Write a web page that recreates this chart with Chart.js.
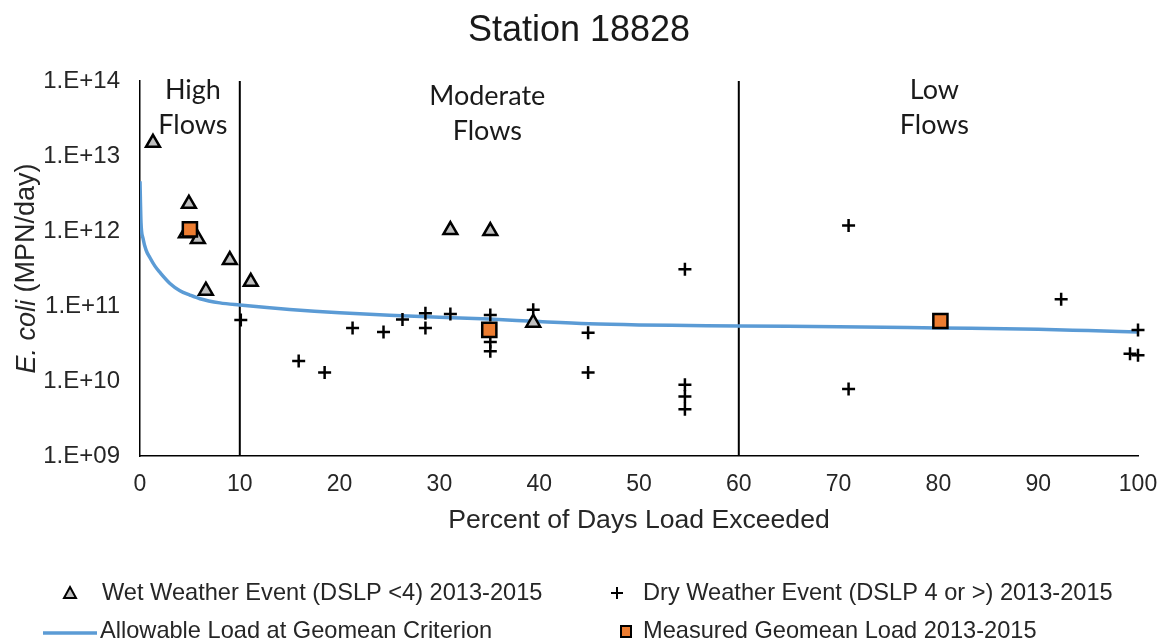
<!DOCTYPE html>
<html>
<head>
<meta charset="utf-8">
<title>Station 18828</title>
<script src="https://cdn.jsdelivr.net/npm/chart.js@4.4.1/dist/chart.umd.min.js"></script>
<style>
  html, body { margin: 0; padding: 0; background: #fff; }
  #wrap { width: 1162px; height: 641px; }
</style>
</head>
<body>
<div id="wrap"><canvas id="ldc" width="1162" height="641"></canvas></div>
<script>
// percent of days load exceeded / E. coli load (MPN/day)
const wetX = [1.3, 4.9, 4.6, 5.8, 6.6, 9.0, 11.1, 31.1, 35.1, 39.4];
const wetY = [1.5e13, 2.3e12, 9.3e11, 7.8e11, 1.6e11, 4.1e11, 2.1e11, 1.03e12, 1.0e12, 6.0e10];

const dryX = [10.1, 15.9, 18.5, 21.3, 24.4, 26.3, 28.6, 28.6, 31.1, 35.1, 35.1, 35.1, 39.4,
  44.9, 44.9, 54.6, 54.6, 54.6, 54.6, 71.0, 71.0, 92.3, 100, 99.2, 100];
const dryY = [6.5e10, 1.85e10, 1.3e10, 5.1e10, 4.5e10, 6.6e10, 8.0e10, 5.1e10, 7.8e10, 7.6e10, 3.3e10, 2.5e10, 8.9e10,
  4.4e10, 1.3e10, 3.1e11, 8.9e9, 6.2e9, 4.2e9, 1.18e12, 7.8e9, 1.23e11, 4.8e10, 2.3e10, 2.2e10];

const geoX = [5.0, 35.0, 80.2];
const geoY = [1.05e12, 4.8e10, 6.3e10];

// allowable load curve (flow duration x geomean criterion)
const allowX = [0, 0.1, 0.3, 0.6, 1, 1.5, 2, 3, 4, 5, 6, 8, 10, 15, 20, 25, 30, 35, 40, 45, 50, 55, 60, 70, 80, 90, 95, 100];
const allowY = [4.6e12, 1.3e12, 8e11, 5.6e11, 4.4e11, 3.4e11, 2.8e11, 2.0e11, 1.6e11, 1.4e11, 1.25e11, 1.1e11, 1.03e11,
  9.0e10, 8.1e10, 7.5e10, 7.1e10, 6.7e10, 6.2e10, 5.8e10, 5.6e10, 5.5e10, 5.4e10, 5.3e10, 5.1e10, 4.9e10, 4.7e10, 4.5e10];

// flow regime boundaries and labels
const zoneBreaks = [10, 60];
const zoneLabels = [['High', 'Flows'], ['Moderate', 'Flows'], ['Low', 'Flows']];
const zoneLabelX = [5.3, 34.8, 79.6];

const yTicks = [1e9, 1e10, 1e11, 1e12, 1e13, 1e14];
const xTicks = [0, 10, 20, 30, 40, 50, 60, 70, 80, 90, 100];

const legendNames = [
  'Wet Weather Event (DSLP <4) 2013-2015',
  'Dry Weather Event (DSLP 4 or >) 2013-2015',
  'Allowable Load at Geomean Criterion',
  'Measured Geomean Load 2013-2015'
];

const SANS = '"Liberation Sans", Arial, sans-serif';
const BLUE = '#5B9BD5';
const ORANGE = '#ED7D31';
const GREY = '#BFBFBF';

function pts(xs, ys){ return xs.map((x, i) => ({ x, y: ys[i] })); }

function fmtExp(v){
  const e = Math.round(Math.log10(v));
  return '1.E+' + String(e).padStart(2, '0');
}

const zoneLines = zoneBreaks.map(b => ({
  data: [{ x: b, y: yTicks[0] }, { x: b, y: yTicks[yTicks.length - 1] }],
  showLine: true, borderColor: '#000', borderWidth: 2, pointRadius: 0, order: 5
}));

// text and legend drawn straight onto the canvas
const extras = {
  id: 'extras',
  afterDraw(chart){
    const { ctx, scales: { x }, chartArea } = chart;
    ctx.save();

    // title
    ctx.fillStyle = '#1a1a1a';
    ctx.font = '36px ' + SANS;
    ctx.textAlign = 'center';
    ctx.textBaseline = 'middle';
    ctx.fillText('Station 18828', 579, 31);

    // flow regime labels
    ctx.font = '27px Lato, "Open Sans", sans-serif';
    ctx.fillStyle = '#1a1a1a';
    ctx.textBaseline = 'alphabetic';
    const base = [99, 105, 99];
    zoneLabels.forEach((lines, i) => {
      const cx = x.getPixelForValue(zoneLabelX[i]);
      lines.forEach((t, j) => ctx.fillText(t, cx, base[i] + j * 35));
    });

    // x axis title
    ctx.font = '26.6px ' + SANS;
    ctx.fillStyle = '#262626';
    ctx.textBaseline = 'middle';
    ctx.fillText('Percent of Days Load Exceeded', (chartArea.left + chartArea.right) / 2, 521);

    // y axis title, italic species name
    const a = 'E. coli', b = ' (MPN/day)';
    ctx.save();
    ctx.translate(27, (chartArea.top + chartArea.bottom) / 2);
    ctx.rotate(-Math.PI / 2);
    ctx.font = 'italic 27px ' + SANS;
    const wa = ctx.measureText(a).width;
    ctx.font = '27px ' + SANS;
    const wb = ctx.measureText(b).width;
    ctx.textAlign = 'left';
    const sx = -(wa + wb) / 2;
    ctx.font = 'italic 27px ' + SANS;
    ctx.fillText(a, sx, 0);
    ctx.font = '27px ' + SANS;
    ctx.fillText(b, sx + wa, 0);
    ctx.restore();

    // legend
    ctx.font = '23.6px ' + SANS;
    ctx.fillStyle = '#262626';
    ctx.textAlign = 'left';
    ctx.textBaseline = 'middle';
    const r1 = 593, r2 = 631;
    ctx.fillText(legendNames[0], 102, r1);
    ctx.fillText(legendNames[1], 643, r1);
    ctx.fillText(legendNames[2], 100, r2);
    ctx.fillText(legendNames[3], 643, r2);

    ctx.lineWidth = 2;
    ctx.strokeStyle = '#000';
    ctx.fillStyle = GREY;
    ctx.beginPath();
    ctx.moveTo(70, r1 - 6); ctx.lineTo(76, r1 + 5); ctx.lineTo(64, r1 + 5); ctx.closePath();
    ctx.fill(); ctx.stroke();

    ctx.beginPath();
    ctx.moveTo(611, r1); ctx.lineTo(623, r1);
    ctx.moveTo(617, r1 - 6); ctx.lineTo(617, r1 + 6);
    ctx.stroke();

    ctx.strokeStyle = BLUE;
    ctx.lineWidth = 3.5;
    ctx.beginPath();
    ctx.moveTo(43, r2 + 2); ctx.lineTo(97, r2 + 2);
    ctx.stroke();

    ctx.fillStyle = ORANGE;
    ctx.strokeStyle = '#000';
    ctx.lineWidth = 2;
    ctx.fillRect(621, r2 - 5, 10, 11);
    ctx.strokeRect(621, r2 - 5, 10, 11);

    ctx.restore();
  }
};

new Chart(document.getElementById('ldc'), {
  type: 'scatter',
  data: {
    datasets: [
      {
        label: legendNames[3], data: pts(geoX, geoY), clip: false,
        pointStyle: 'rect', pointRadius: 10, pointHoverRadius: 10,
        backgroundColor: ORANGE, borderColor: '#000', borderWidth: 2.5, order: 0
      },
      {
        label: legendNames[1], data: pts(dryX, dryY), clip: false,
        pointStyle: 'cross', pointRadius: 6.5, pointHoverRadius: 6.5,
        borderColor: '#000', borderWidth: 2.5, order: 1
      },
      {
        label: legendNames[0], data: pts(wetX, wetY), clip: false,
        pointStyle: 'triangle', pointRadius: 8, pointHoverRadius: 8,
        backgroundColor: GREY, borderColor: '#000', borderWidth: 2.5, order: 2
      },
      {
        label: legendNames[2], data: pts(allowX, allowY),
        showLine: true, pointRadius: 0, borderColor: BLUE, borderWidth: 3.5,
        cubicInterpolationMode: 'monotone', order: 3
      },
      ...zoneLines
    ]
  },
  options: {
    responsive: false,
    devicePixelRatio: 1,
    animation: false,
    layout: { padding: { top: 81, right: 24, bottom: 95, left: 0 } },
    plugins: {
      legend: { display: false },
      title: { display: false },
      tooltip: { enabled: false }
    },
    scales: {
      x: {
        type: 'linear', min: 0, max: 100,
        grid: { display: false, drawTicks: false },
        border: { display: true, color: '#000', width: 1.5 },
        afterBuildTicks: s => { s.ticks = xTicks.map(v => ({ value: v })); },
        afterFit: s => { s.height = 90; s.paddingRight = 0; s.paddingLeft = 0; },
        ticks: { color: '#262626', font: { family: SANS, size: 23 }, padding: 15, maxRotation: 0 }
      },
      y: {
        type: 'logarithmic', min: 1e9, max: 1e14,
        grid: { display: false, drawTicks: false },
        border: { display: true, color: '#000', width: 1.5 },
        afterBuildTicks: s => { s.ticks = yTicks.map(v => ({ value: v })); },
        afterFit: s => { s.width = 140; },
        ticks: { color: '#262626', font: { family: SANS, size: 24 }, padding: 20, callback: v => fmtExp(v) }
      }
    }
  },
  plugins: [extras]
});
</script>
</body>
</html>
